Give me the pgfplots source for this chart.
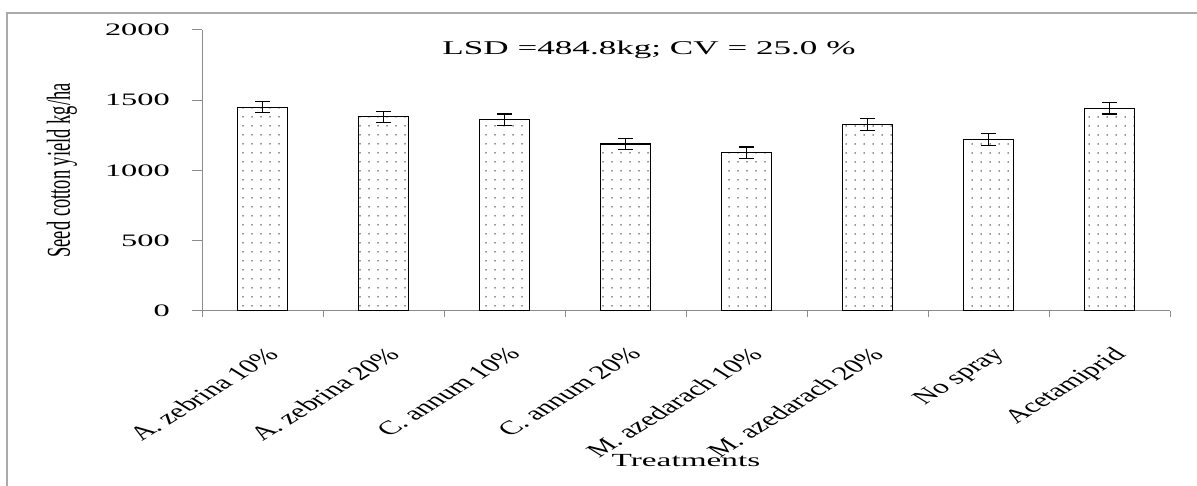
\documentclass[border=0pt]{standalone}
\usepackage{pgfplots}
\pgfplotsset{compat=1.18}
\usepackage{fontspec}
\setmainfont{Liberation Serif}
\usetikzlibrary{patterns.meta}
\definecolor{axgray}{RGB}{140,140,140}
\definecolor{framegray}{RGB}{170,170,170}
\pgfplotstableread{
x y e
0 1450 40
1 1383 39
2 1362 40
3 1188 40
4 1127 40
5 1328 42
6 1220 44
7 1442 40
}\yielddata
\begin{document}
\begin{tikzpicture}
\useasboundingbox (0pt,0pt) rectangle (1197pt,486pt);
\draw[framegray, line width=1.2pt] (7pt,0pt) -- (7pt,473pt) -- (1197pt,473pt);
\begin{axis}[
  at={(202pt,175pt)}, anchor=south west,
  scale only axis, width=968pt, height=281pt,
  xmin=-0.5, xmax=7.5, ymin=0, ymax=2000,
  axis x line*=bottom, axis y line*=left,
  axis line style={draw=axgray, line width=1pt},
  tick align=outside,
  major tick length=6pt,
  tick style={draw=axgray, line width=1pt},
  xtick={-0.5,0.5,...,7.5}, xticklabels={},
  ytick=\empty,
  extra x ticks={0,1,...,7},
  extra x tick labels={A. zebrina 10\%, A. zebrina 20\%, C. annum 10\%, C. annum 20\%, M. azedarach 10\%, M. azedarach 20\%, No spray, Acetamiprid},
  extra x tick style={major tick length=0pt,
    tick label style={xshift=2pt, yshift=-35pt, xscale=1.6, rotate=45, anchor=north east, inner sep=0pt, font=\fontsize{19.5}{21}\selectfont}},
  extra y ticks={0,500,...,2000},
  extra y tick labels={\scalebox{1.85}[1]{0},\scalebox{1.85}[1]{500},\scalebox{1.85}[1]{1000},\scalebox{1.85}[1]{1500},\scalebox{1.85}[1]{2000}},
  extra y tick style={major tick length=10pt,
    tick label style={anchor=east, inner sep=0pt, xshift=-22pt, font=\fontsize{17.5}{20}\selectfont}},
  ylabel={\scalebox{1}[1.8]{Seed cotton yield kg/ha}},
  every axis y label/.style={at={(axis description cs:0,0.5)}, xshift=-140pt, rotate=90, anchor=center, inner sep=0pt, font=\fontsize{18.5}{20}\selectfont},
  xlabel={\scalebox{1.8}[1]{Treatments}},
  every axis x label/.style={at={(axis description cs:0.5,0)}, yshift=-156pt, anchor=base, inner sep=0pt, font=\fontsize{18.5}{20}\selectfont},
]
\addplot[ybar, bar width=50pt, draw=black, line width=1.2pt,
  pattern={Dots[distance=9pt, radius=0.75pt]}, pattern color=black!85,
  error bars/.cd, y dir=both, y explicit,
  error bar style={black, line width=1.2pt},
  error mark options={rotate=90, mark size=7.5pt, black, line width=1.2pt}]
  table[x=x, y=y, y error=e] {\yielddata};
\end{axis}
\node[anchor=base, font=\fontsize{19.5}{22}\selectfont] at (649pt,431pt) {\scalebox{1.8}[1]{LSD =484.8kg;\ CV = 25.0 \%}};
\end{tikzpicture}
\end{document}
